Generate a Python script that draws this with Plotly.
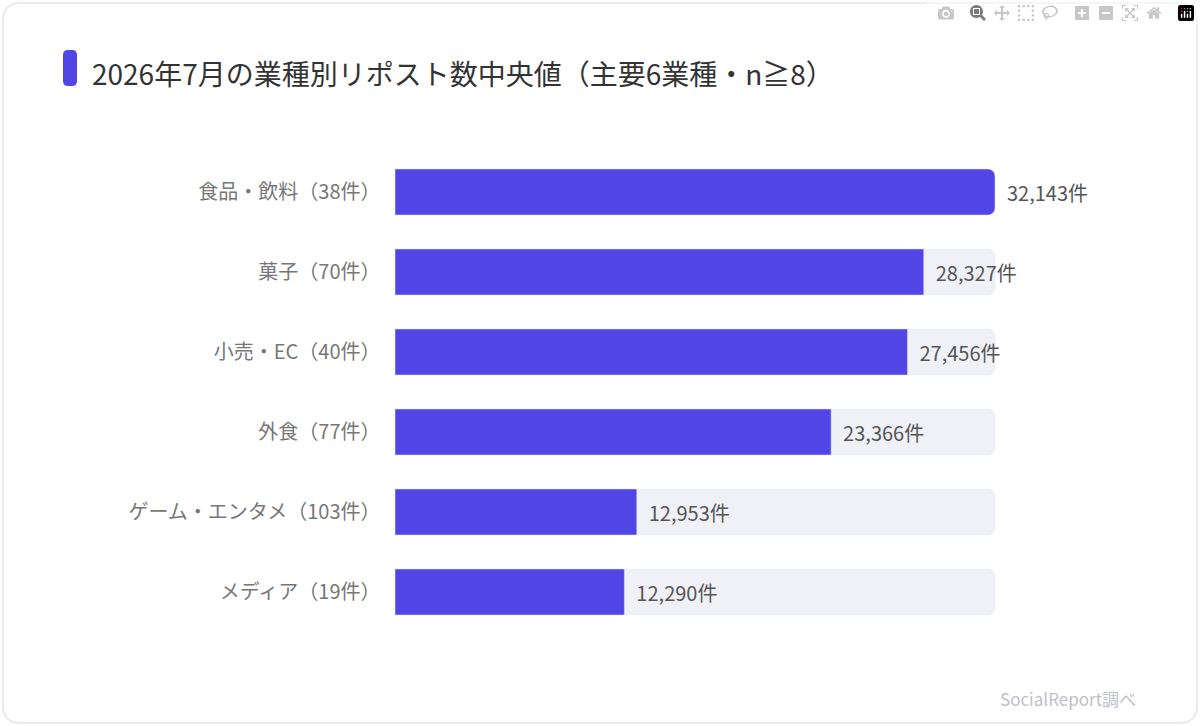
import plotly.graph_objects as go

categories = ["食品・飲料（38件）", "菓子（70件）", "小売・EC（40件）", "外食（77件）", "ゲーム・エンタメ（103件）", "メディア（19件）"]
values = [32143, 28327, 27456, 23366, 12953, 12290]
value_labels = [f"  {v:,}件" for v in values]

W, H = 1200, 726
L, R, T, B = 395, 1160, 152, 632
vmax = max(values)
xmax = vmax * (R - L) / 600

def px(x): return (x - L) / (R - L)
def py(y): return (B - y) / (B - T)

fig = go.Figure()
fig.add_trace(go.Bar(y=categories, x=[vmax] * len(values), orientation="h",
                     marker=dict(color="#f0f0f7"), width=0.575, hoverinfo="skip", showlegend=False))
fig.add_trace(go.Bar(y=categories, x=values, orientation="h", text=value_labels,
                     textposition="outside", cliponaxis=False,
                     textfont=dict(size=20, color="#555555"),
                     marker=dict(color="#5145e6"), width=0.575, showlegend=False))

def rounded(x0, y0, x1, y1, r):
    pts = [f"M {px(x0+r)},{py(y0)}", f"L {px(x1-r)},{py(y0)}", f"Q {px(x1)},{py(y0)} {px(x1)},{py(y0+r)}",
           f"L {px(x1)},{py(y1-r)}", f"Q {px(x1)},{py(y1)} {px(x1-r)},{py(y1)}",
           f"L {px(x0+r)},{py(y1)}", f"Q {px(x0)},{py(y1)} {px(x0)},{py(y1-r)}",
           f"L {px(x0)},{py(y0+r)}", f"Q {px(x0)},{py(y0)} {px(x0+r)},{py(y0)} Z"]
    return " ".join(pts)

fig.add_shape(type="path", xref="paper", yref="paper", path=rounded(3, 3, 1197, 723, 18),
              line=dict(color="#e4e4ea", width=1.5), fillcolor="rgba(0,0,0,0)", layer="below")
fig.add_shape(type="path", xref="paper", yref="paper", path=rounded(63, 50, 77, 86, 5),
              line=dict(width=0), fillcolor="#5145e6")

fig.add_annotation(text="2026年7月の業種別リポスト数中央値（主要6業種・n≧8）", xref="paper", yref="paper",
                   x=px(90), y=py(73), xanchor="left", yanchor="middle", showarrow=False,
                   font=dict(size=28, color="#333333"))
fig.add_annotation(text="SocialReport調べ", xref="paper", yref="paper",
                   x=px(1138), y=py(698), xanchor="right", yanchor="middle", showarrow=False,
                   font=dict(size=17, color="#c0c0c8"))

fig.update_layout(
    width=W, height=H, barmode="overlay", barcornerradius=7,
    margin=dict(l=L, r=W - R, t=T, b=H - B),
    paper_bgcolor="white", plot_bgcolor="white",
    font=dict(family="Noto Sans CJK JP", color="#666666"),
    xaxis=dict(range=[0, xmax], visible=False),
    yaxis=dict(autorange="reversed", showgrid=False, zeroline=False, showline=False,
               ticks="", ticksuffix="   ", tickfont=dict(size=20, color="#777777")),
)
fig.write_html("out.html", post_script="document.body.style.margin='0';document.body.style.overflow='hidden';")
